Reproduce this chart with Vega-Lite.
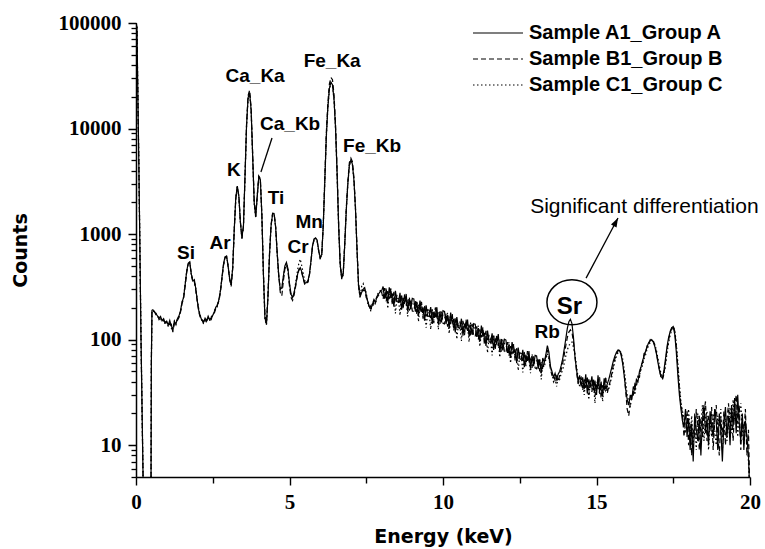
{
"$schema":"https://vega.github.io/schema/vega-lite/v6.json",
"width":614,"height":454,
"autosize":{"type":"none"},
"padding":{"left":136,"top":23,"right":15,"bottom":72},
"background":"white",
"config":{"view":{"stroke":null},"axis":{"grid":false,"domainColor":"black","tickColor":"black","labelColor":"black","titleColor":"black"}},
"datasets":{
"spec":[
{"e":0,"a":100000,"b":100000,"c":100000},{"e":0.03,"a":90000,"b":90000,"c":90000},{"e":0.1,"a":3200,"b":3100,"c":3300},{"e":0.16,"a":120,"b":115,"c":125},{"e":0.23,"a":5,"b":5,"c":5},{"e":0.26,"a":2,"b":2,"c":2},{"e":0.46,"a":2,"b":2,"c":2},{"e":0.49,"a":5,"b":5,"c":5},{"e":0.5,"a":60,"b":60,"c":60},{"e":0.52,"a":190,"b":185,"c":188},
{"e":0.55,"a":192,"b":188,"c":190},{"e":0.6,"a":183,"b":186,"c":180},{"e":0.65,"a":176,"b":172,"c":178},{"e":0.7,"a":168,"b":171,"c":165},{"e":0.75,"a":160,"b":155,"c":163},{"e":0.8,"a":166,"b":160,"c":158},{"e":0.85,"a":151,"b":155,"c":148},{"e":0.9,"a":158,"b":150,"c":154},{"e":0.95,"a":144,"b":148,"c":140},{"e":1.0,"a":150,"b":142,"c":147},
{"e":1.05,"a":137,"b":145,"c":133},{"e":1.1,"a":152,"b":139,"c":146},{"e":1.15,"a":134,"b":140,"c":128},{"e":1.2,"a":126,"b":118,"c":122},{"e":1.25,"a":149,"b":143,"c":150},{"e":1.3,"a":141,"b":148,"c":139},{"e":1.35,"a":158,"b":152,"c":161},{"e":1.4,"a":168,"b":162,"c":165},{"e":1.45,"a":188,"b":182,"c":185},{"e":1.5,"a":228,"b":220,"c":224},
{"e":1.55,"a":250,"b":245,"c":255},{"e":1.6,"a":330,"b":320,"c":335},{"e":1.65,"a":440,"b":430,"c":445},{"e":1.7,"a":530,"b":520,"c":525},{"e":1.75,"a":545,"b":530,"c":540},{"e":1.8,"a":420,"b":430,"c":410},{"e":1.85,"a":360,"b":350,"c":365},{"e":1.9,"a":370,"b":355,"c":360},{"e":1.95,"a":300,"b":290,"c":305},{"e":2.0,"a":230,"b":225,"c":235},
{"e":2.05,"a":185,"b":180,"c":190},{"e":2.1,"a":165,"b":160,"c":168},{"e":2.15,"a":152,"b":158,"c":148},{"e":2.2,"a":146,"b":140,"c":150},{"e":2.25,"a":160,"b":152,"c":155},{"e":2.3,"a":150,"b":155,"c":145},{"e":2.35,"a":167,"b":160,"c":163},{"e":2.4,"a":154,"b":158,"c":150},{"e":2.45,"a":162,"b":155,"c":165},{"e":2.5,"a":170,"b":175,"c":166},
{"e":2.55,"a":184,"b":178,"c":186},{"e":2.6,"a":204,"b":198,"c":200},{"e":2.65,"a":210,"b":215,"c":205},{"e":2.7,"a":240,"b":232,"c":238},{"e":2.75,"a":290,"b":280,"c":295},{"e":2.8,"a":390,"b":380,"c":385},{"e":2.85,"a":520,"b":505,"c":515},{"e":2.9,"a":610,"b":595,"c":600},{"e":2.95,"a":620,"b":610,"c":615},{"e":3.0,"a":500,"b":490,"c":505},
{"e":3.05,"a":380,"b":370,"c":385},{"e":3.1,"a":330,"b":320,"c":325},{"e":3.15,"a":480,"b":470,"c":485},{"e":3.2,"a":1100,"b":1080,"c":1090},{"e":3.25,"a":2200,"b":2150,"c":2180},{"e":3.3,"a":2850,"b":2800,"c":2820},{"e":3.35,"a":2300,"b":2280,"c":2250},{"e":3.4,"a":1300,"b":1320,"c":1280},{"e":3.45,"a":930,"b":900,"c":920},{"e":3.5,"a":1200,"b":1180,"c":1190},
{"e":3.55,"a":3500,"b":3400,"c":3450},{"e":3.6,"a":10500,"b":10800,"c":10300},{"e":3.65,"a":19500,"b":20500,"c":19000},{"e":3.7,"a":22000,"b":23000,"c":21500},{"e":3.75,"a":15000,"b":15800,"c":14800},{"e":3.8,"a":5500,"b":5800,"c":5400},{"e":3.85,"a":2000,"b":2100,"c":1950},{"e":3.9,"a":1450,"b":1500,"c":1420},{"e":3.95,"a":2300,"b":2350,"c":2250},{"e":4.0,"a":3500,"b":3550,"c":3450},
{"e":4.05,"a":3300,"b":3350,"c":3250},{"e":4.1,"a":1500,"b":1550,"c":1480},{"e":4.15,"a":420,"b":440,"c":410},{"e":4.2,"a":160,"b":170,"c":155},{"e":4.25,"a":140,"b":145,"c":138},{"e":4.3,"a":260,"b":270,"c":255},{"e":4.35,"a":650,"b":670,"c":640},{"e":4.4,"a":1200,"b":1230,"c":1180},{"e":4.45,"a":1550,"b":1580,"c":1520},{"e":4.5,"a":1550,"b":1570,"c":1530},
{"e":4.55,"a":1150,"b":1170,"c":1130},{"e":4.6,"a":650,"b":670,"c":640},{"e":4.65,"a":400,"b":410,"c":390},{"e":4.7,"a":300,"b":280,"c":305},{"e":4.75,"a":310,"b":260,"c":300},{"e":4.8,"a":400,"b":360,"c":390},{"e":4.85,"a":500,"b":470,"c":490},{"e":4.9,"a":540,"b":510,"c":530},{"e":4.95,"a":470,"b":450,"c":460},{"e":5.0,"a":340,"b":320,"c":335},
{"e":5.05,"a":270,"b":250,"c":265},{"e":5.1,"a":250,"b":235,"c":245},{"e":5.15,"a":280,"b":265,"c":275},{"e":5.2,"a":330,"b":320,"c":345},{"e":5.25,"a":400,"b":390,"c":430},{"e":5.3,"a":460,"b":450,"c":520},{"e":5.35,"a":480,"b":470,"c":580},{"e":5.4,"a":440,"b":430,"c":500},{"e":5.45,"a":380,"b":375,"c":420},{"e":5.5,"a":340,"b":330,"c":360},
{"e":5.55,"a":350,"b":345,"c":355},{"e":5.6,"a":360,"b":350,"c":355},{"e":5.65,"a":420,"b":410,"c":415},{"e":5.7,"a":560,"b":550,"c":555},{"e":5.75,"a":780,"b":760,"c":770},{"e":5.8,"a":900,"b":880,"c":890},{"e":5.85,"a":920,"b":900,"c":910},{"e":5.9,"a":880,"b":860,"c":870},{"e":5.95,"a":700,"b":690,"c":695},{"e":6.0,"a":600,"b":590,"c":595},
{"e":6.05,"a":640,"b":630,"c":635},{"e":6.1,"a":1200,"b":1250,"c":1180},{"e":6.15,"a":3200,"b":3400,"c":3150},{"e":6.2,"a":8500,"b":9200,"c":8300},{"e":6.25,"a":16000,"b":17500,"c":15800},{"e":6.3,"a":24000,"b":26500,"c":23500},{"e":6.35,"a":27500,"b":30500,"c":27000},{"e":6.4,"a":26000,"b":29000,"c":25500},{"e":6.45,"a":19000,"b":21000,"c":18700},{"e":6.5,"a":10000,"b":11000,"c":9800},
{"e":6.55,"a":3800,"b":4100,"c":3700},{"e":6.6,"a":1200,"b":1300,"c":1180},{"e":6.65,"a":520,"b":550,"c":510},{"e":6.7,"a":380,"b":390,"c":375},{"e":6.75,"a":420,"b":430,"c":410},{"e":6.8,"a":800,"b":830,"c":790},{"e":6.85,"a":1700,"b":1780,"c":1680},{"e":6.9,"a":3000,"b":3150,"c":2950},{"e":6.95,"a":4500,"b":4750,"c":4450},{"e":7.0,"a":5000,"b":5250,"c":4950},
{"e":7.05,"a":4600,"b":4850,"c":4550},{"e":7.1,"a":3200,"b":3400,"c":3150},{"e":7.15,"a":1700,"b":1800,"c":1680},{"e":7.2,"a":700,"b":740,"c":690},{"e":7.25,"a":320,"b":340,"c":315},{"e":7.3,"a":255,"b":265,"c":250},{"e":7.35,"a":280,"b":300,"c":320},{"e":7.4,"a":300,"b":290,"c":340},{"e":7.45,"a":310,"b":295,"c":300},{"e":7.5,"a":265,"b":250,"c":280},
{"e":7.55,"a":230,"b":240,"c":220},{"e":7.6,"a":205,"b":195,"c":215},{"e":7.65,"a":195,"b":210,"c":185},{"e":7.7,"a":215,"b":200,"c":225},{"e":7.75,"a":240,"b":230,"c":235},{"e":7.8,"a":225,"b":245,"c":215},{"e":7.85,"a":258,"b":250,"c":262},{"e":7.9,"a":270,"b":262,"c":280},{"e":7.95,"a":285,"b":275,"c":290},{"e":8.0,"a":290,"b":282,"c":295},
{"e":8.05,"a":319,"b":243,"c":290},{"e":8.1,"a":244,"b":308,"c":258},{"e":8.15,"a":296,"b":230,"c":310},{"e":8.2,"a":222,"b":288,"c":197},{"e":8.25,"a":314,"b":244,"c":271},{"e":8.3,"a":247,"b":307,"c":293},{"e":8.35,"a":274,"b":213,"c":226},{"e":8.4,"a":205,"b":284,"c":279},{"e":8.45,"a":290,"b":227,"c":177},{"e":8.5,"a":230,"b":263,"c":248},
{"e":8.55,"a":226,"b":259,"c":244},{"e":8.6,"a":278,"b":218,"c":170},{"e":8.65,"a":192,"b":266,"c":261},{"e":8.7,"a":249,"b":194,"c":206},{"e":8.75,"a":219,"b":271,"c":259},{"e":8.8,"a":271,"b":211,"c":234},{"e":8.85,"a":186,"b":242,"c":166},{"e":8.9,"a":242,"b":188,"c":253},{"e":8.95,"a":193,"b":244,"c":204},{"e":9.0,"a":246,"b":187,"c":225},
{"e":9.05,"a":243,"b":185,"c":221},{"e":9.1,"a":184,"b":233,"c":195},{"e":9.15,"a":224,"b":173,"c":234},{"e":9.2,"a":167,"b":216,"c":148},{"e":9.25,"a":235,"b":183,"c":203},{"e":9.3,"a":184,"b":228,"c":218},{"e":9.35,"a":203,"b":158,"c":167},{"e":9.4,"a":151,"b":210,"c":206},{"e":9.45,"a":212,"b":166,"c":130},{"e":9.5,"a":167,"b":192,"c":180},
{"e":9.55,"a":166,"b":190,"c":179},{"e":9.6,"a":204,"b":160,"c":125},{"e":9.65,"a":141,"b":195,"c":192},{"e":9.7,"a":184,"b":143,"c":152},{"e":9.75,"a":163,"b":202,"c":193},{"e":9.8,"a":203,"b":158,"c":175},{"e":9.85,"a":140,"b":182,"c":125},{"e":9.9,"a":182,"b":141,"c":190},{"e":9.95,"a":146,"b":185,"c":155},{"e":10.0,"a":188,"b":143,"c":171},
{"e":10.05,"a":185,"b":141,"c":169},{"e":10.1,"a":141,"b":178,"c":149},{"e":10.15,"a":171,"b":133,"c":179},{"e":10.2,"a":128,"b":166,"c":114},{"e":10.25,"a":181,"b":140,"c":156},{"e":10.3,"a":142,"b":176,"c":168},{"e":10.35,"a":157,"b":122,"c":129},{"e":10.4,"a":117,"b":162,"c":159},{"e":10.45,"a":164,"b":129,"c":101},{"e":10.5,"a":130,"b":149,"c":140},
{"e":10.55,"a":128,"b":147,"c":138},{"e":10.6,"a":158,"b":124,"c":97},{"e":10.65,"a":109,"b":151,"c":148},{"e":10.7,"a":142,"b":110,"c":117},{"e":10.75,"a":125,"b":155,"c":148},{"e":10.8,"a":155,"b":121,"c":134},{"e":10.85,"a":107,"b":139,"c":95},{"e":10.9,"a":139,"b":108,"c":146},{"e":10.95,"a":111,"b":141,"c":118},{"e":11.0,"a":142,"b":108,"c":130},
{"e":11.05,"a":140,"b":107,"c":128},{"e":11.1,"a":106,"b":134,"c":112},{"e":11.15,"a":129,"b":100,"c":136},{"e":11.2,"a":96,"b":125,"c":86},{"e":11.25,"a":136,"b":105,"c":117},{"e":11.3,"a":106,"b":131,"c":125},{"e":11.35,"a":116,"b":90,"c":96},{"e":11.4,"a":87,"b":121,"c":119},{"e":11.45,"a":122,"b":96,"c":75},{"e":11.5,"a":96,"b":110,"c":104},
{"e":11.55,"a":94,"b":108,"c":102},{"e":11.6,"a":115,"b":90,"c":71},{"e":11.65,"a":80,"b":110,"c":108},{"e":11.7,"a":103,"b":80,"c":85},{"e":11.75,"a":90,"b":112,"c":107},{"e":11.8,"a":113,"b":87,"c":97},{"e":11.85,"a":77,"b":100,"c":68},{"e":11.9,"a":100,"b":77,"c":104},{"e":11.95,"a":79,"b":100,"c":84},{"e":12.0,"a":101,"b":77,"c":92},
{"e":12.05,"a":99,"b":75,"c":90},{"e":12.1,"a":75,"b":95,"c":79},{"e":12.15,"a":90,"b":70,"c":95},{"e":12.2,"a":67,"b":87,"c":60},{"e":12.25,"a":95,"b":73,"c":82},{"e":12.3,"a":74,"b":91,"c":87},{"e":12.35,"a":81,"b":63,"c":67},{"e":12.4,"a":60,"b":83,"c":82},{"e":12.45,"a":84,"b":66,"c":51},{"e":12.5,"a":66,"b":75,"c":71},
{"e":12.55,"a":65,"b":74,"c":70},{"e":12.6,"a":80,"b":63,"c":49},{"e":12.65,"a":55,"b":77,"c":75},{"e":12.7,"a":72,"b":56,"c":60},{"e":12.75,"a":63,"b":78,"c":74},{"e":12.8,"a":78,"b":60,"c":67},{"e":12.85,"a":53,"b":69,"c":48},{"e":12.9,"a":70,"b":54,"c":73},{"e":12.95,"a":56,"b":70,"c":59},{"e":13.0,"a":71,"b":54,"c":65},
{"e":13.05,"a":70,"b":53,"c":64},{"e":13.1,"a":53,"b":67,"c":56},{"e":13.15,"a":64,"b":50,"c":67},{"e":13.2,"a":48,"b":62,"c":42},{"e":13.25,"a":67,"b":52,"c":58},{"e":13.3,"a":61,"b":63,"c":55},{"e":13.35,"a":72,"b":68,"c":65},{"e":13.4,"a":88,"b":80,"c":74},{"e":13.45,"a":76,"b":70,"c":66},{"e":13.5,"a":56,"b":52,"c":55},
{"e":13.55,"a":50,"b":46,"c":48},{"e":13.6,"a":44,"b":47,"c":40},{"e":13.65,"a":48,"b":41,"c":43},{"e":13.7,"a":42,"b":45,"c":36},{"e":13.75,"a":47,"b":40,"c":44},{"e":13.8,"a":50,"b":46,"c":42},{"e":13.85,"a":57,"b":52,"c":48},{"e":13.9,"a":66,"b":60,"c":52},{"e":13.95,"a":82,"b":72,"c":60},{"e":14.0,"a":102,"b":88,"c":70},
{"e":14.05,"a":128,"b":105,"c":80},{"e":14.1,"a":148,"b":118,"c":88},{"e":14.15,"a":156,"b":124,"c":92},{"e":14.2,"a":142,"b":118,"c":95},{"e":14.25,"a":105,"b":95,"c":85},{"e":14.3,"a":68,"b":70,"c":72},{"e":14.35,"a":52,"b":50,"c":56},{"e":14.4,"a":40,"b":38,"c":44},{"e":14.45,"a":46,"b":42,"c":36},{"e":14.5,"a":36,"b":44,"c":40},
{"e":14.55,"a":44,"b":33,"c":38},{"e":14.6,"a":34,"b":42,"c":30},{"e":14.65,"a":47,"b":35,"c":43},{"e":14.7,"a":31,"b":45,"c":36},{"e":14.75,"a":42,"b":30,"c":27},{"e":14.8,"a":36,"b":40,"c":42},{"e":14.85,"a":45,"b":32,"c":34},{"e":14.9,"a":33,"b":43,"c":39},{"e":14.95,"a":41,"b":29,"c":25},{"e":15.0,"a":30,"b":39,"c":37},
{"e":15.05,"a":46,"b":34,"c":42},{"e":15.1,"a":32,"b":44,"c":30},{"e":15.15,"a":40,"b":28,"c":38},{"e":15.2,"a":29,"b":37,"c":26},{"e":15.25,"a":43,"b":33,"c":40},{"e":15.3,"a":34,"b":45,"c":33},{"e":15.35,"a":38,"b":31,"c":36},{"e":15.4,"a":42,"b":36,"c":34},{"e":15.45,"a":48,"b":41,"c":39},{"e":15.5,"a":55,"b":48,"c":45},
{"e":15.55,"a":63,"b":58,"c":54},{"e":15.6,"a":70,"b":66,"c":62},{"e":15.65,"a":76,"b":73,"c":70},{"e":15.7,"a":80,"b":78,"c":75},{"e":15.75,"a":79,"b":80,"c":78},{"e":15.8,"a":72,"b":74,"c":76},{"e":15.85,"a":60,"b":62,"c":66},{"e":15.9,"a":46,"b":48,"c":52},{"e":15.95,"a":34,"b":33,"c":40},{"e":16.0,"a":27,"b":22,"c":30},
{"e":16.05,"a":24,"b":19,"c":26},{"e":16.1,"a":30,"b":25,"c":23},{"e":16.15,"a":27,"b":31,"c":29},{"e":16.2,"a":36,"b":30,"c":33},{"e":16.25,"a":33,"b":38,"c":30},{"e":16.3,"a":42,"b":36,"c":39},{"e":16.35,"a":40,"b":45,"c":44},{"e":16.4,"a":50,"b":44,"c":46},{"e":16.45,"a":55,"b":58,"c":52},{"e":16.5,"a":63,"b":60,"c":57},
{"e":16.55,"a":70,"b":74,"c":66},{"e":16.6,"a":78,"b":75,"c":72},{"e":16.65,"a":86,"b":88,"c":82},{"e":16.7,"a":94,"b":90,"c":88},{"e":16.75,"a":98,"b":100,"c":94},{"e":16.8,"a":100,"b":96,"c":98},{"e":16.85,"a":95,"b":98,"c":96},{"e":16.9,"a":86,"b":88,"c":90},{"e":16.95,"a":74,"b":76,"c":80},{"e":17.0,"a":61,"b":63,"c":67},
{"e":17.05,"a":51,"b":52,"c":56},{"e":17.1,"a":45,"b":44,"c":48},{"e":17.15,"a":43,"b":42,"c":44},{"e":17.2,"a":52,"b":48,"c":47},{"e":17.25,"a":67,"b":62,"c":58},{"e":17.3,"a":87,"b":82,"c":76},{"e":17.35,"a":105,"b":100,"c":94},{"e":17.4,"a":120,"b":116,"c":110},{"e":17.45,"a":130,"b":128,"c":124},{"e":17.5,"a":133,"b":135,"c":132},
{"e":17.55,"a":112,"b":120,"c":122},{"e":17.6,"a":76,"b":86,"c":92},{"e":17.65,"a":46,"b":55,"c":60},{"e":17.7,"a":30,"b":34,"c":38},{"e":17.75,"a":22,"b":24,"c":26},{"e":17.8,"a":17,"b":20,"c":21},{"e":17.85,"a":15,"b":12,"c":18},{"e":17.9,"a":22,"b":18,"c":13},{"e":17.95,"a":12,"b":21,"c":17},{"e":18.0,"a":18,"b":10,"c":22},
{"e":18.05,"a":9,"b":16,"c":12},{"e":18.1,"a":16,"b":8,"c":19},{"e":18.15,"a":7,"b":14,"c":10},{"e":18.2,"a":20,"b":12,"c":16},{"e":18.25,"a":14,"b":22,"c":9},{"e":18.3,"a":11,"b":15,"c":20},{"e":18.35,"a":19,"b":9,"c":13},{"e":18.4,"a":8,"b":18,"c":15},{"e":18.45,"a":17,"b":12,"c":24},{"e":18.5,"a":24,"b":20,"c":11},
{"e":18.55,"a":13,"b":26,"c":18},{"e":18.6,"a":18,"b":11,"c":21},{"e":18.65,"a":10,"b":19,"c":9},{"e":18.7,"a":21,"b":14,"c":17},{"e":18.75,"a":15,"b":23,"c":12},{"e":18.8,"a":12,"b":9,"c":20},{"e":18.85,"a":22,"b":17,"c":14},{"e":18.9,"a":17,"b":24,"c":10},{"e":18.95,"a":9,"b":13,"c":19},{"e":19.0,"a":20,"b":8,"c":15},
{"e":19.05,"a":14,"b":18,"c":22},{"e":19.1,"a":7,"b":12,"c":9},{"e":19.15,"a":16,"b":21,"c":14},{"e":19.2,"a":23,"b":10,"c":18},{"e":19.25,"a":12,"b":17,"c":11},{"e":19.3,"a":19,"b":25,"c":16},{"e":19.35,"a":10,"b":14,"c":23},{"e":19.4,"a":24,"b":20,"c":13},{"e":19.45,"a":15,"b":11,"c":27},{"e":19.5,"a":28,"b":22,"c":17},
{"e":19.55,"a":13,"b":30,"c":21},{"e":19.6,"a":30,"b":16,"c":12},{"e":19.65,"a":16,"b":24,"c":19},{"e":19.7,"a":11,"b":9,"c":25},{"e":19.75,"a":20,"b":18,"c":14},{"e":19.8,"a":9,"b":13,"c":10},{"e":19.85,"a":17,"b":22,"c":16},{"e":19.9,"a":12,"b":8,"c":11},{"e":19.95,"a":8,"b":14,"c":7},{"e":20.0,"a":3,"b":3,"c":3}
],
"lab":[
{"e":1.63,"c":661,"t":"Si"},{"e":2.74,"c":822,"t":"Ar"},{"e":3.19,"c":4045,"t":"K"},{"e":3.88,"c":31500,"t":"Ca_Ka"},{"e":5.02,"c":11040,"t":"Ca_Kb"},{"e":4.56,"c":2193,"t":"Ti"},{"e":5.28,"c":753,"t":"Cr"},{"e":5.64,"c":1300,"t":"Mn"},{"e":6.39,"c":43600,"t":"Fe_Ka"},{"e":7.69,"c":6820,"t":"Fe_Kb"},{"e":13.39,"c":118,"t":"Rb"}
],
"ptr":[
{"e":4.43,"c":8130,"e2":4.07,"c2":3870},{"e":14.66,"c":383,"e2":15.7,"c2":1419}
]
},
"layer":[
{
"data":{"name":"spec"},
"transform":[{"fold":["a","b","c"],"as":["s","v"]}],
"mark":{"type":"line","clip":true,"strokeWidth":1.2,"color":"black"},
"encoding":{
"x":{"field":"e","type":"quantitative","scale":{"domain":[0,20],"nice":false,"zero":false},
"axis":{"orient":"bottom","values":[0,2.5,5,7.5,10,12.5,15,17.5,20],"labelExpr":"datum.value % 5 == 0 ? datum.label : ''","tickSize":8,"tickDash":{"condition":{"test":"datum.value % 5 == 0","value":[1,0]},"value":[6,20]},"tickWidth":1.4,"domainWidth":1.5,"labelFont":"Liberation Serif","labelFontWeight":"bold","labelFontSize":21,"labelPadding":6,"labelFlush":false,"labelOverlap":false,"title":"Energy (keV)","titleFont":"DejaVu Sans","titleFontSize":19,"titleFontWeight":"bold","titlePadding":15}},
"y":{"field":"v","type":"quantitative","scale":{"type":"log","domain":[5,100000],"nice":false},
"axis":{"orient":"left","values":[5,6,7,8,9,10,20,30,40,50,60,70,80,90,100,200,300,400,500,600,700,800,900,1000,2000,3000,4000,5000,6000,7000,8000,9000,10000,20000,30000,40000,50000,60000,70000,80000,90000,100000],"labelExpr":"indexof([10,100,1000,10000,100000], datum.value) >= 0 ? format(datum.value, 'd') : ''","tickSize":8,"tickDash":{"condition":{"test":"indexof([10,100,1000,10000,100000], datum.value) >= 0","value":[1,0]},"value":[5,20]},"tickWidth":1.3,"domainWidth":1.5,"labelFont":"Liberation Serif","labelFontWeight":"bold","labelFontSize":21,"labelPadding":7,"labelFlush":false,"labelOverlap":false,"title":"Counts","titleFont":"DejaVu Sans","titleFontSize":19,"titleFontWeight":"bold","titlePadding":28}},
"strokeDash":{"field":"s","type":"nominal","scale":{"domain":["a","b","c"],"range":[[1,0],[5,3],[1.5,2.5]]},
"legend":{"title":null,"orient":"none","legendX":352,"legendY":0,"padding":0,
"labelExpr":"datum.label == 'a' ? 'Sample A1_Group A' : datum.label == 'b' ? 'Sample B1_Group B' : 'Sample C1_Group C'",
"labelFont":"Liberation Sans","labelFontWeight":"bold","labelFontSize":20,"labelColor":"black","labelLimit":400,
"symbolType":"M-5,0H5","symbolSize":100,"symbolStrokeWidth":1.2,"symbolStrokeColor":"black","symbolFillColor":"transparent","labelOffset":21,"rowPadding":6}}
}
},
{
"data":{"name":"lab"},
"mark":{"type":"text","font":"Liberation Sans","fontWeight":"bold","fontSize":19,"color":"black","align":"center","baseline":"middle"},
"encoding":{
"x":{"field":"e","type":"quantitative","scale":{"domain":[0,20],"nice":false,"zero":false},"axis":null},
"y":{"field":"c","type":"quantitative","scale":{"type":"log","domain":[5,100000],"nice":false},"axis":null},
"text":{"field":"t"}
}
},
{
"data":{"values":[{"e":14.12,"c":203,"t":"Sr"}]},
"mark":{"type":"text","font":"Liberation Sans","fontWeight":"bold","fontSize":24,"color":"black","align":"center","baseline":"middle"},
"encoding":{"x":{"field":"e","type":"quantitative","scale":{"domain":[0,20],"nice":false,"zero":false},"axis":null},"y":{"field":"c","type":"quantitative","scale":{"type":"log","domain":[5,100000],"nice":false},"axis":null},"text":{"field":"t"}}
},
{
"data":{"values":[{"e":14.2,"c":226}]},
"mark":{"type":"point","shape":"M-1,0A1,0.9,0,1,1,1,0A1,0.9,0,1,1,-1,0Z","size":2500,"filled":false,"stroke":"black","strokeWidth":1.5,"opacity":1},
"encoding":{"x":{"field":"e","type":"quantitative","scale":{"domain":[0,20],"nice":false,"zero":false},"axis":null},"y":{"field":"c","type":"quantitative","scale":{"type":"log","domain":[5,100000],"nice":false},"axis":null}}
},
{
"data":{"name":"ptr"},
"mark":{"type":"rule","color":"black","strokeWidth":1.3},
"encoding":{"x":{"field":"e","type":"quantitative","scale":{"domain":[0,20],"nice":false,"zero":false},"axis":null},"y":{"field":"c","type":"quantitative","scale":{"type":"log","domain":[5,100000],"nice":false},"axis":null},"x2":{"field":"e2"},"y2":{"field":"c2"}}
},
{
"data":{"values":[{"e":15.7,"c":1419}]},
"mark":{"type":"point","shape":"M0,0L-0.35,1L0.35,1Z","size":324,"filled":true,"color":"black","opacity":1,"angle":28},
"encoding":{"x":{"field":"e","type":"quantitative","scale":{"domain":[0,20],"nice":false,"zero":false},"axis":null},"y":{"field":"c","type":"quantitative","scale":{"type":"log","domain":[5,100000],"nice":false},"axis":null}}
},
{
"data":{"values":[{"e":16.56,"c":1581,"t":"Significant differentiation"}]},
"mark":{"type":"text","font":"Liberation Sans","fontWeight":"normal","fontSize":21,"color":"black","align":"center","baseline":"alphabetic"},
"encoding":{"x":{"field":"e","type":"quantitative","scale":{"domain":[0,20],"nice":false,"zero":false},"axis":null},"y":{"field":"c","type":"quantitative","scale":{"type":"log","domain":[5,100000],"nice":false},"axis":null},"text":{"field":"t"}}
}
],
"resolve":{"scale":{"x":"independent","y":"independent"},"axis":{"x":"independent","y":"independent"}}
}
